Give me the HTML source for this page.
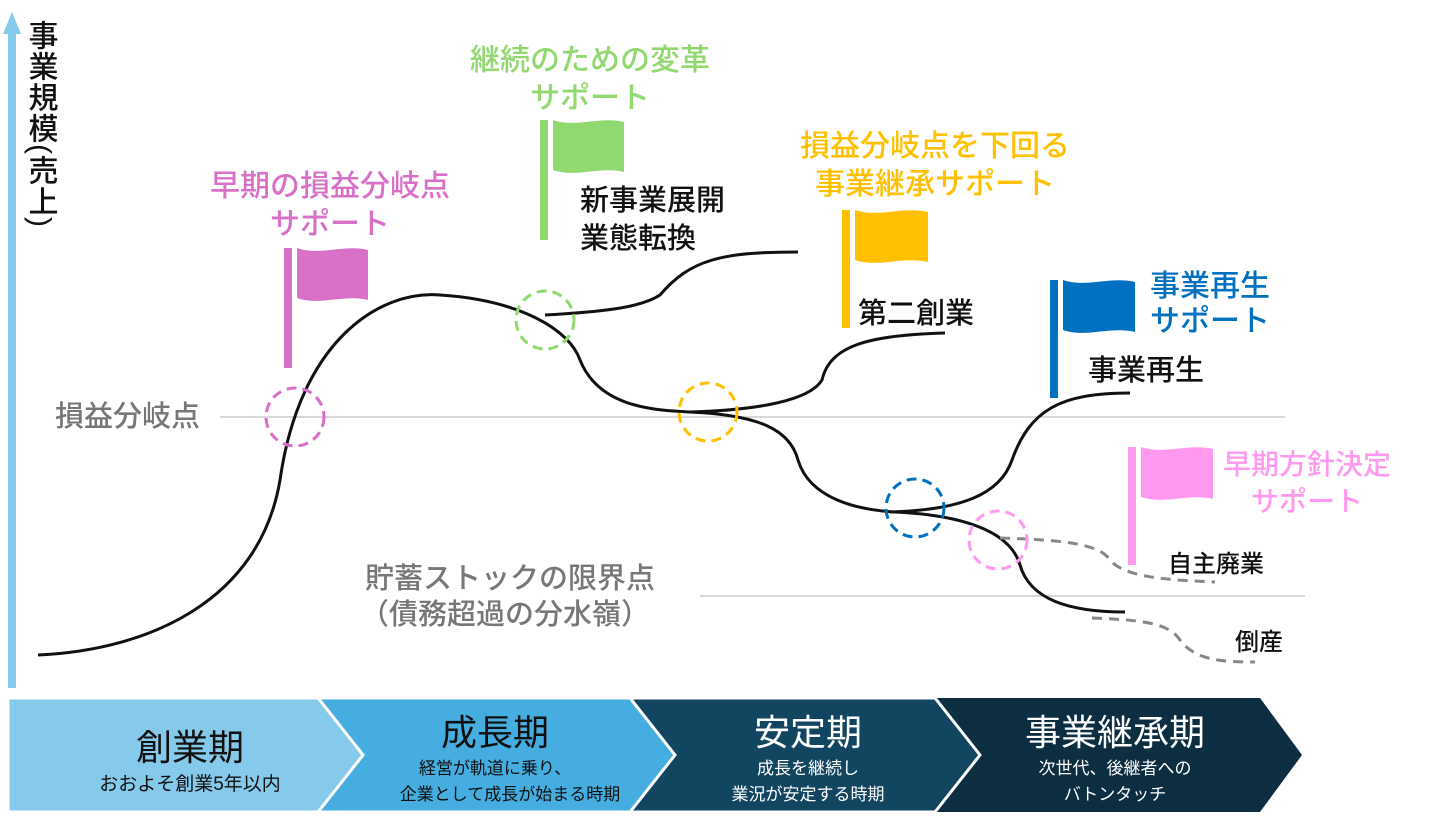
<!DOCTYPE html>
<html><head><meta charset="utf-8"><style>
html,body{margin:0;padding:0;background:#fff;}
svg{display:block;font-family:"Liberation Sans","Noto Sans CJK JP",sans-serif;}
</style></head><body>
<svg width="1440" height="818" viewBox="0 0 1440 818" xmlns="http://www.w3.org/2000/svg">
<!-- axis -->
<line x1="12" y1="30" x2="12" y2="688" stroke="#85c9eb" stroke-width="8"/>
<polygon points="12,12 3,34 21,34" fill="#85c9eb"/>
<text font-size="30" fill="#111" font-weight="500" x="40" y="20" style="writing-mode:vertical-rl" letter-spacing="1">事業規模(売上)</text>
<!-- reference lines -->
<line x1="220" y1="417" x2="1285" y2="417" stroke="#ccc" stroke-width="1.5"/>
<line x1="700" y1="596" x2="1305" y2="596" stroke="#ccc" stroke-width="1.5"/>
<!-- curves -->
<g fill="none" stroke="#111" stroke-width="3">
<path d="M38,655 C150,650 260,600 280,480 C300,340 380,290 440,295 C520,300 570,330 580,360 C600,410 660,410 690,412 C760,415 790,430 798,460 C810,500 860,510 895,512 C960,515 1010,530 1020,565 C1030,600 1070,612 1125,612"/>
<path d="M545,315 C600,312 640,308 660,295 C690,260 720,252 798,252"/>
<path d="M690,412 C760,410 810,400 822,380 C830,345 870,335 945,333"/>
<path d="M890,512 C960,510 1000,495 1012,460 C1030,410 1060,393 1130,393"/>
</g>
<g fill="none" stroke="#888" stroke-width="3" stroke-dasharray="10,7">
<path d="M1000,538 C1070,540 1100,545 1110,560 C1125,578 1170,580 1215,582"/>
<path d="M1092,618 C1150,620 1170,625 1180,640 C1195,660 1220,662 1255,662"/>
</g>
<!-- circles -->
<g fill="none" stroke-width="3" stroke-dasharray="10,6">
<circle cx="295" cy="417" r="29" stroke="#d870c8"/>
<circle cx="545" cy="320" r="29" stroke="#92d870"/>
<circle cx="708" cy="412" r="29" stroke="#ffc000"/>
<circle cx="915" cy="508" r="29" stroke="#0070c0"/>
<circle cx="998" cy="540" r="29" stroke="#ff99f0"/>
</g>
<!-- flags -->
<g>
<rect x="284" y="248" width="8" height="120" fill="#d870c8"/>
<path d="M297,248 C320,256 345,244 368,250 L368,300 C345,294 320,306 297,298 Z" fill="#d870c8"/>
<rect x="540" y="120" width="8" height="120" fill="#92d870"/>
<path d="M553,120 C576,128 601,116 624,122 L624,172 C601,166 576,178 553,170 Z" fill="#92d870"/>
<rect x="842" y="210" width="8" height="118" fill="#ffc000"/>
<path d="M855,210 C878,218 903,206 928,212 L928,262 C903,256 878,268 855,260 Z" fill="#ffc000"/>
<rect x="1050" y="280" width="8" height="118" fill="#0070c0"/>
<path d="M1063,280 C1086,288 1111,276 1135,282 L1135,332 C1111,326 1086,338 1063,330 Z" fill="#0070c0"/>
<rect x="1128" y="447" width="8" height="118" fill="#ff99f0"/>
<path d="M1141,447 C1164,455 1189,443 1213,449 L1213,499 C1189,493 1164,505 1141,497 Z" fill="#ff99f0"/>
</g>
<!-- colored labels -->
<g font-size="30" text-anchor="middle" font-weight="500">
<text x="330" y="196" fill="#d870c8">早期の損益分岐点</text>
<text x="330" y="234" fill="#d870c8">サポート</text>
<text x="590" y="70" fill="#92d870">継続のための変革</text>
<text x="590" y="108" fill="#92d870">サポート</text>
<text x="935" y="156" fill="#ffc000">損益分岐点を下回る</text>
<text x="935" y="194" fill="#ffc000">事業継承サポート</text>
<text x="1210" y="296" fill="#0070c0">事業再生</text>
<text x="1210" y="331" fill="#0070c0">サポート</text>
<text x="1307" y="474" fill="#ff99f0" font-size="28">早期方針決定</text>
<text x="1307" y="511" fill="#ff99f0" font-size="28">サポート</text>
</g>
<g font-size="29" fill="#111" font-weight="500">
<text x="580" y="210">新事業展開</text>
<text x="580" y="248">業態転換</text>
<text x="858" y="323">第二創業</text>
<text x="1088" y="380">事業再生</text>
<text x="1168" y="572" font-size="24">自主廃業</text>
<text x="1235" y="650" font-size="24">倒産</text>
</g>
<g font-size="29" fill="#777" font-weight="500">
<text x="55" y="426">損益分岐点</text>
<text x="365" y="588">貯蓄ストックの限界点</text>
<text x="360" y="624">（債務超過の分水嶺）</text>
</g>
<!-- phase bar -->
<polygon points="930,698 1260,698 1302,755 1260,812 930,812" fill="#0d2d40"/>
<polygon points="625,698 935,698 980,755 935,812 625,812 670,755" fill="#124560" stroke="#fff" stroke-width="3"/>
<polygon points="318,698 630,698 675,755 630,812 318,812 363,755" fill="#45ade0" stroke="#fff" stroke-width="3"/>
<polygon points="8,698 318,698 363,755 318,812 8,812" fill="#85c9eb" stroke="#fff" stroke-width="3"/>
<g text-anchor="middle">
<text x="190" y="760" font-size="36" fill="#111">創業期</text>
<text x="190" y="790" font-size="19" fill="#111">おおよそ創業5年以内</text>
<text x="495" y="745" font-size="36" fill="#111">成長期</text>
<text x="495" y="774" font-size="17" fill="#111">経営が軌道に乗り、</text>
<text x="510" y="800" font-size="17" fill="#111">企業として成長が始まる時期</text>
<text x="808" y="745" font-size="36" fill="#fff">安定期</text>
<text x="808" y="774" font-size="17" fill="#fff">成長を継続し</text>
<text x="808" y="800" font-size="17" fill="#fff">業況が安定する時期</text>
<text x="1115" y="745" font-size="36" fill="#fff">事業継承期</text>
<text x="1115" y="774" font-size="17" fill="#fff">次世代、後継者への</text>
<text x="1115" y="800" font-size="17" fill="#fff">バトンタッチ</text>
</g>
</svg>
</body></html>
